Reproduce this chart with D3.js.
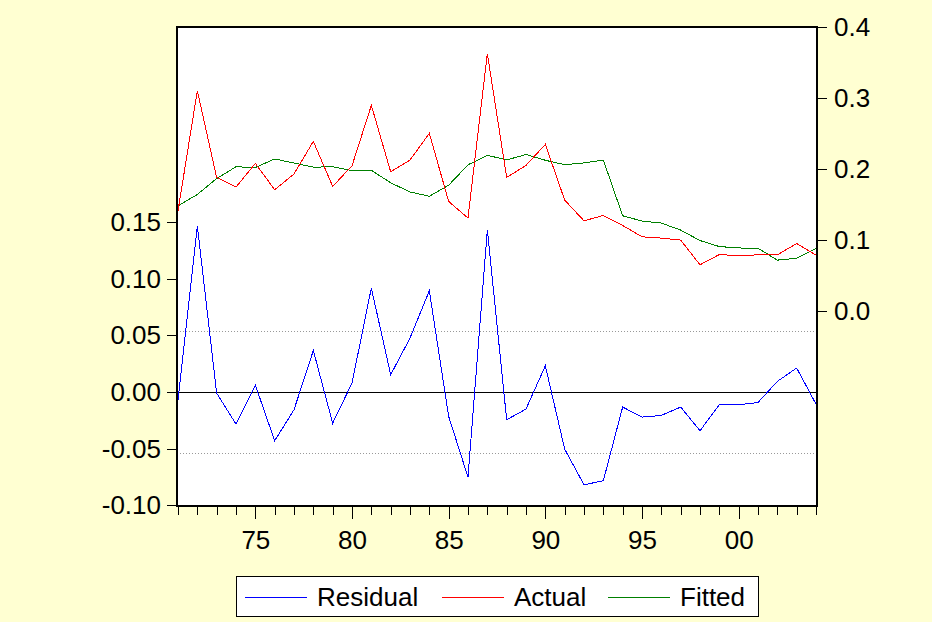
<!DOCTYPE html>
<meta charset="utf-8">
<script src="https://d3js.org/d3.v7.min.js"></script>
<style>
  html, body { margin: 0; padding: 0; background: #ffffd2; }
  text { font-family: "Liberation Sans", Arial, sans-serif; }
</style>
<body>
<div id="my_dataviz"></div>
<script>

  // data
  var years = d3.range(1971, 2005);

  var residual = [-0.0074, 0.1467, -0.0010, -0.0282, 0.0062, -0.0430, -0.0156, 0.0367, -0.0274, 0.0079,
    0.0917, 0.0153, 0.0476, 0.0893, -0.0215, -0.0750, 0.1431, -0.0244, -0.0150, 0.0232,
    -0.0503, -0.0818, -0.0782, -0.0132, -0.0221, -0.0206, -0.0132, -0.0341, -0.0112, -0.0112,
    -0.0092, 0.0094, 0.0212, -0.0106];

  var actual = [0.141, 0.310, 0.188, 0.1744, 0.2078, 0.1707, 0.1928, 0.2388, 0.1753, 0.2045,
    0.2896, 0.196, 0.2125, 0.2501, 0.1542, 0.1307, 0.3625, 0.188, 0.205, 0.2346,
    0.1561, 0.1269, 0.1344, 0.1203, 0.1044, 0.1025, 0.0997, 0.0649, 0.0794, 0.0776,
    0.079, 0.079, 0.0949, 0.0785];

  var fitted = [0.148, 0.164, 0.1865, 0.203, 0.202, 0.214, 0.2084, 0.2025, 0.203, 0.1975,
    0.198, 0.1805, 0.1675, 0.1615, 0.177, 0.2058, 0.2192, 0.2127, 0.2203, 0.2122,
    0.206, 0.2085, 0.2125, 0.134, 0.1265, 0.1237, 0.1138, 0.0991, 0.0906, 0.0886,
    0.0883, 0.0715, 0.074, 0.0878];

  // standard error of the regression (dotted band)
  var residualSE = 0.0538;

  var leftTicks = [-0.10, -0.05, 0.00, 0.05, 0.10, 0.15];
  var rightTicks = [0.0, 0.1, 0.2, 0.3, 0.4];
  var majorYears = [1975, 1980, 1985, 1990, 1995, 2000];

  var seriesNames = ["Residual", "Actual", "Fitted"];
  var seriesColors = ["#0000ff", "#ff0000", "#008000"];

  // plot frame (window.top is reserved, so use other names)
  var frameL = 177, frameT = 27, frameR = 817, frameB = 506;

  var svg = d3.select("#my_dataviz")
    .append("svg")
    .attr("width", 932)
    .attr("height", 622)
    .style("display", "block");

  svg.append("rect")
    .attr("width", 932)
    .attr("height", 622)
    .attr("fill", "#ffffd2");

  var x = d3.scaleLinear()
    .domain([1971, 2004])
    .range([frameL + 1, frameR - 1]);

  var yL = d3.scaleLinear()
    .domain([-0.1005, 0.322])
    .range([frameB, frameT]);

  var yR = d3.scaleLinear()
    .domain([-0.275, 0.4])
    .range([frameB, frameT]);

  // plain hyphen for negative numbers, like the original
  function fmt(spec) {
    var f = d3.format(spec);
    return function (d) { return f(d).replace("\u2212", "-") };
  }

  // white plot area
  svg.append("rect")
    .attr("x", frameL)
    .attr("y", frameT)
    .attr("width", frameR - frameL)
    .attr("height", frameB - frameT)
    .attr("fill", "white");

  // dotted +/- one S.E. lines
  [residualSE, -residualSE].forEach(function (v) {
    svg.append("line")
      .attr("x1", frameL).attr("x2", frameR)
      .attr("y1", Math.round(yL(v)) + 0.5).attr("y2", Math.round(yL(v)) + 0.5)
      .attr("stroke", "#999999")
      .attr("stroke-dasharray", "1,2");
  });

  // zero line
  svg.append("line")
    .attr("x1", frameL).attr("x2", frameR)
    .attr("y1", Math.round(yL(0)) + 0.5).attr("y2", Math.round(yL(0)) + 0.5)
    .attr("stroke", "black");

  // series lines
  function drawLine(values, yScale, color) {
    svg.append("path")
      .datum(values)
      .attr("d", d3.line()
        .x(function (d, i) { return x(years[i]) })
        .y(function (d) { return yScale(d) })
      )
      .attr("fill", "none")
      .attr("stroke", color)
      .attr("stroke-width", 1)
      .attr("shape-rendering", "crispEdges");
  }

  drawLine(fitted, yR, seriesColors[2]);
  drawLine(actual, yR, seriesColors[1]);
  drawLine(residual, yL, seriesColors[0]);

  // frame
  svg.append("rect")
    .attr("x", frameL)
    .attr("y", frameT)
    .attr("width", frameR - frameL)
    .attr("height", frameB - frameT)
    .attr("fill", "none")
    .attr("stroke", "black")
    .attr("stroke-width", 2);

  // left axis (residual)
  var gL = svg.append("g")
    .attr("transform", "translate(" + (frameL - 1) + ",0)")
    .call(d3.axisLeft(yL).tickValues(leftTicks).tickSize(9).tickPadding(6)
      .tickFormat(fmt(".2f")));

  // right axis (actual / fitted)
  var gR = svg.append("g")
    .attr("transform", "translate(" + (frameR + 1) + ",0)")
    .call(d3.axisRight(yR).tickValues(rightTicks).tickSize(9).tickPadding(7)
      .tickFormat(fmt(".1f")));

  // bottom axis: minor ticks every year, major ticks with labels
  var gX = svg.append("g")
    .attr("transform", "translate(0," + (frameB + 1) + ")")
    .call(d3.axisBottom(x).tickValues(years).tickSize(8).tickFormat(""));

  var gX2 = svg.append("g")
    .attr("transform", "translate(0," + (frameB + 1) + ")")
    .call(d3.axisBottom(x).tickValues(majorYears).tickSize(12).tickPadding(12)
      .tickFormat(function (d) { return d3.format("02d")(d % 100) }));

  [gL, gR, gX, gX2].forEach(function (g) {
    g.select(".domain").remove();
    g.selectAll("line").attr("stroke", "black").attr("shape-rendering", "crispEdges");
    g.selectAll("text")
      .attr("fill", "black")
      .style("font-size", "26px")
      .style("font-family", "'Liberation Sans', Arial, sans-serif");
  });

  // legend
  var legend = svg.append("g");
  legend.append("rect")
    .attr("x", 236.5)
    .attr("y", 576.5)
    .attr("width", 522)
    .attr("height", 40)
    .attr("fill", "white")
    .attr("stroke", "black");

  var legendX = [245, 442, 608];
  seriesNames.forEach(function (name, i) {
    legend.append("line")
      .attr("x1", legendX[i]).attr("x2", legendX[i] + 62)
      .attr("y1", 597.5).attr("y2", 597.5)
      .attr("stroke", seriesColors[i]);
    legend.append("text")
      .attr("x", legendX[i] + 72)
      .attr("y", 606)
      .style("font-size", "26px")
      .text(name);
  });

</script>
</body>
</html>
